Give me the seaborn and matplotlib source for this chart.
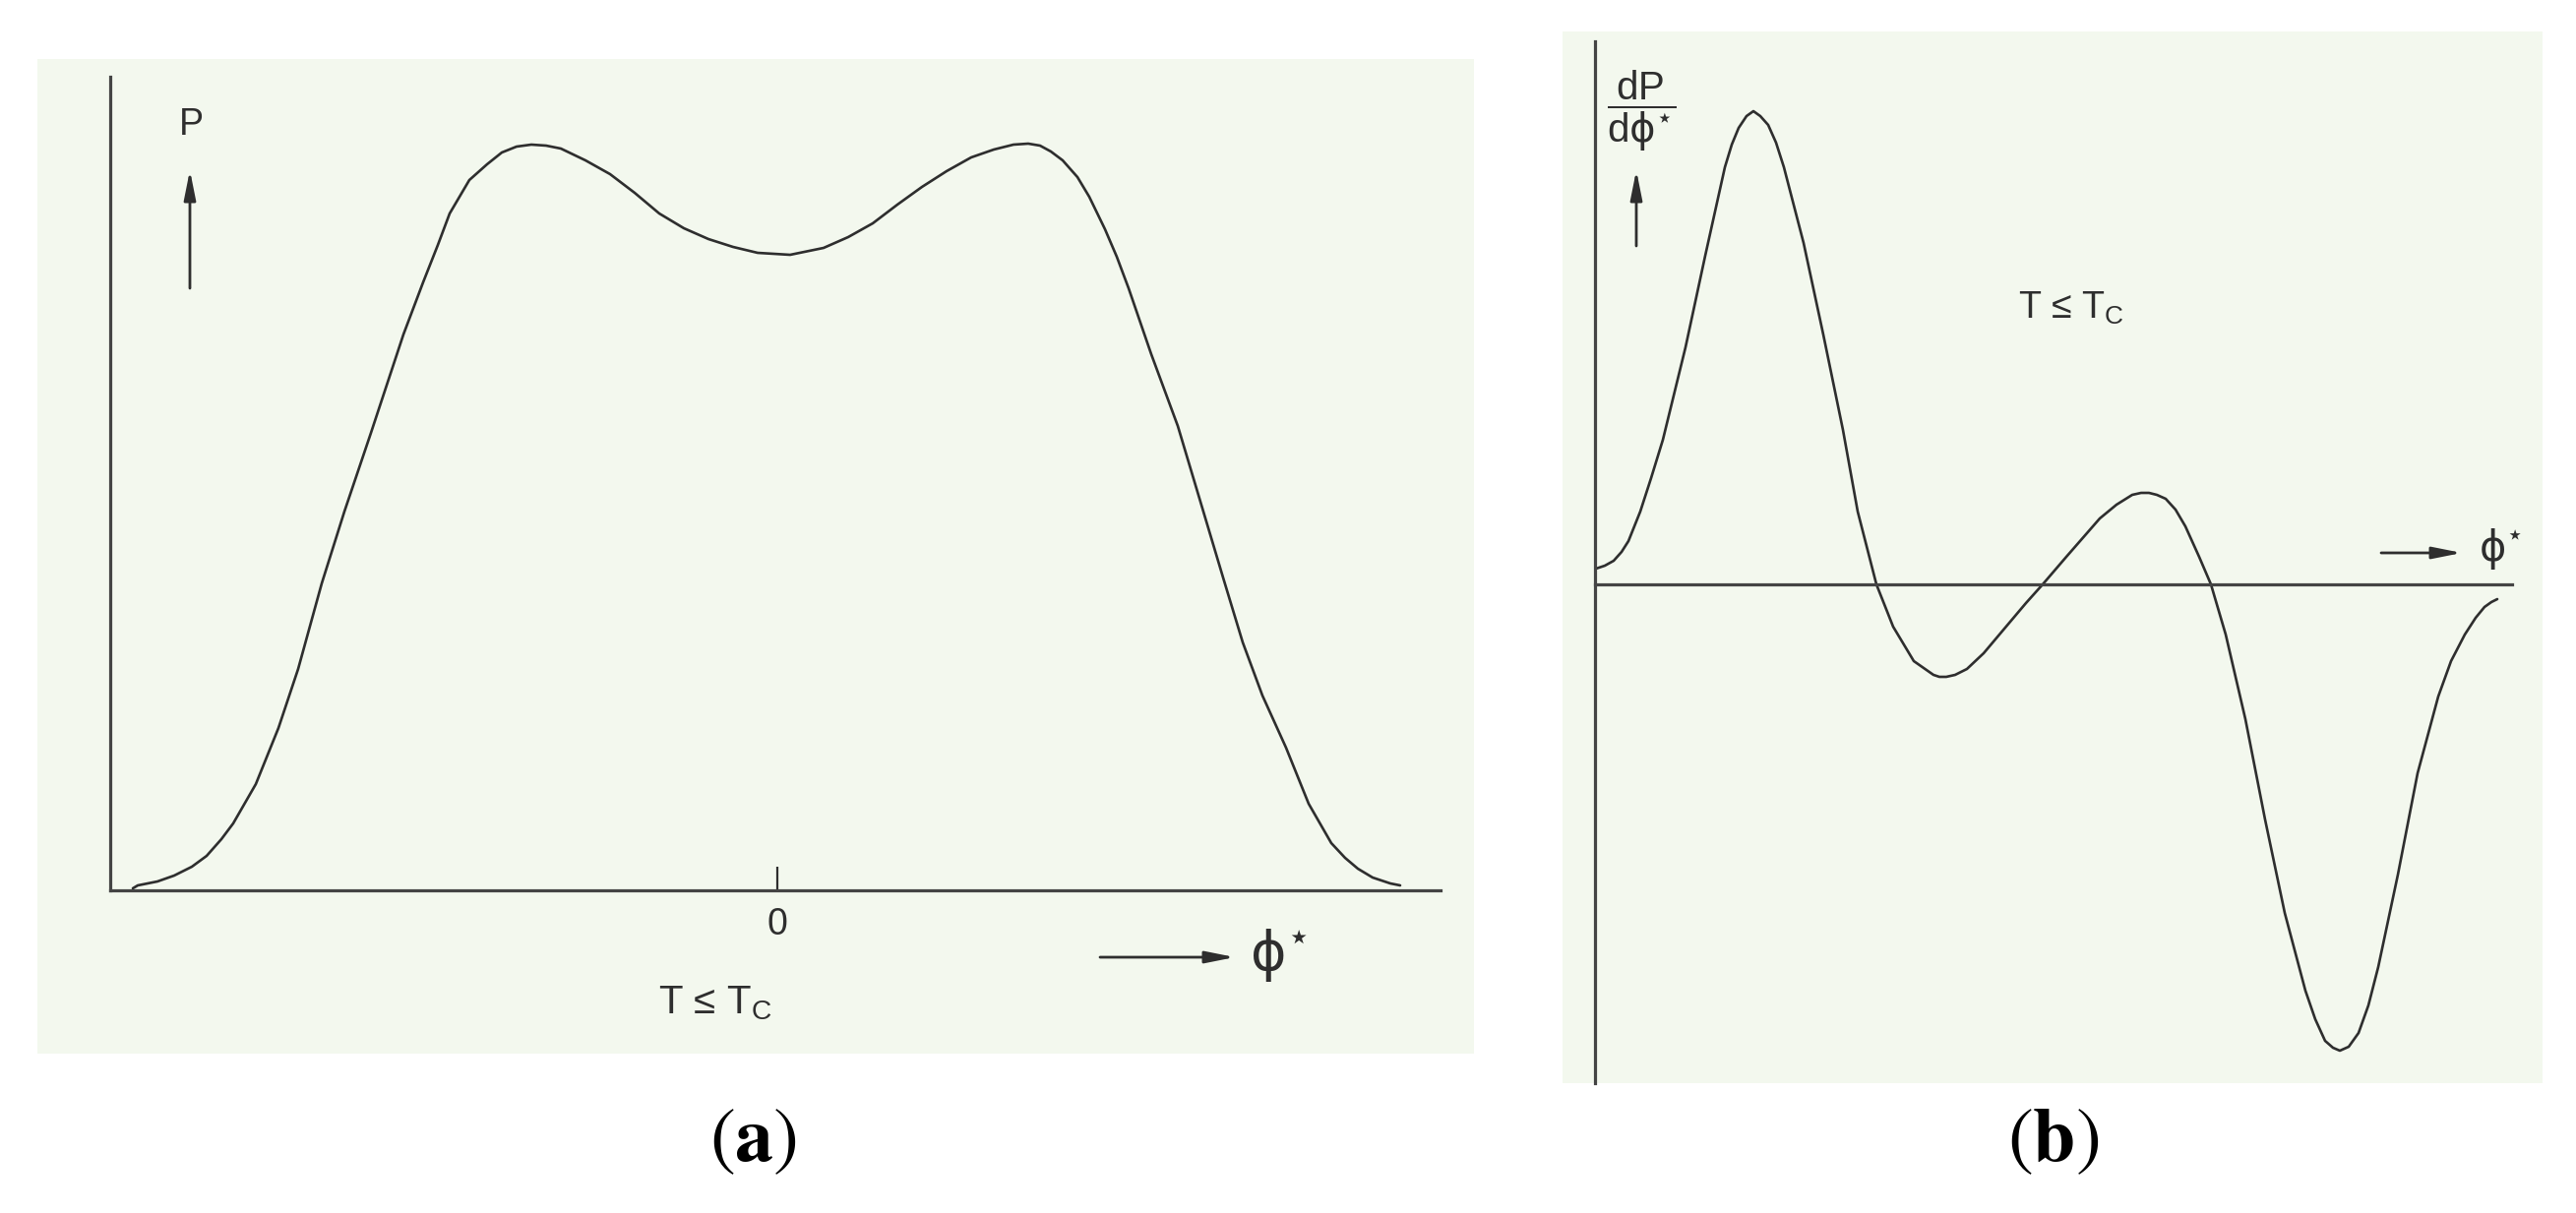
import matplotlib
matplotlib.use("Agg")
import matplotlib.pyplot as plt
import seaborn as sns

# (a) probability P against phi* (phi* = 0 at the tick)
phi_a = [-6.55, -6.50, -6.30, -6.13, -5.95, -5.80, -5.65, -5.53, -5.30, -5.07,
         -4.87, -4.63, -4.40, -4.13, -3.80, -3.60, -3.45, -3.33, -3.13, -2.95,
         -2.80, -2.65, -2.50, -2.35, -2.20, -1.95, -1.70, -1.45, -1.20, -0.95,
         -0.70, -0.45, -0.20, 0.13, 0.47, 0.72, 0.97, 1.22, 1.47, 1.72,
         1.97, 2.20, 2.40, 2.55, 2.67, 2.78, 2.90, 3.05, 3.17, 3.33,
         3.45, 3.57, 3.80, 4.07, 4.33, 4.53, 4.73, 4.93, 5.17, 5.40,
         5.63, 5.77, 5.90, 6.05, 6.23, 6.33]
p_a = [0.02, 0.05, 0.09, 0.15, 0.24, 0.35, 0.52, 0.68, 1.08, 1.65,
       2.25, 3.12, 3.85, 4.65, 5.65, 6.18, 6.56, 6.88, 7.22, 7.38,
       7.50, 7.56, 7.58, 7.57, 7.54, 7.42, 7.28, 7.09, 6.88, 6.73,
       6.62, 6.54, 6.48, 6.46, 6.53, 6.64, 6.78, 6.97, 7.15, 7.31,
       7.45, 7.53, 7.58, 7.59, 7.57, 7.51, 7.42, 7.25, 7.05, 6.72,
       6.44, 6.12, 5.45, 4.72, 3.85, 3.18, 2.52, 1.98, 1.45, 0.88,
       0.48, 0.33, 0.22, 0.13, 0.07, 0.05]

# (b) derivative dP/dphi*
phi_b = [0.01, 0.10, 0.19, 0.27, 0.34, 0.46, 0.57, 0.69, 0.92, 1.12,
         1.32, 1.39, 1.46, 1.54, 1.61, 1.68, 1.76, 1.84, 1.92, 2.12,
         2.32, 2.52, 2.67, 2.86, 3.03, 3.24, 3.44, 3.50, 3.57, 3.66,
         3.78, 3.95, 4.11, 4.38, 4.55, 4.79, 5.13, 5.30, 5.46, 5.55,
         5.63, 5.71, 5.80, 5.90, 6.00, 6.14, 6.26, 6.41, 6.61, 6.81,
         7.01, 7.22, 7.32, 7.42, 7.50, 7.57, 7.66, 7.76, 7.86, 7.96,
         8.16, 8.36, 8.57, 8.70, 8.84, 8.95, 9.04, 9.11, 9.17]
dp_b = [0.16, 0.19, 0.24, 0.33, 0.44, 0.74, 1.08, 1.47, 2.41, 3.34,
        4.24, 4.47, 4.64, 4.76, 4.81, 4.76, 4.67, 4.49, 4.24, 3.47,
        2.54, 1.57, 0.74, 0.00, -0.43, -0.78, -0.92, -0.94, -0.94, -0.92,
        -0.86, -0.70, -0.51, -0.19, 0.00, 0.28, 0.67, 0.81, 0.91, 0.93,
        0.93, 0.91, 0.87, 0.76, 0.59, 0.28, 0.00, -0.51, -1.37, -2.39,
        -3.34, -4.13, -4.42, -4.64, -4.71, -4.74, -4.70, -4.56, -4.28, -3.89,
        -2.95, -1.92, -1.14, -0.78, -0.51, -0.34, -0.23, -0.18, -0.15]

zero_tick = [0]
zero_label = ["0"]

sns.set_theme(style="white")
plt.rcParams["font.family"] = ["Liberation Sans", "DejaVu Sans"]
plt.rcParams["mathtext.fontset"] = "dejavusans"

paper = "#f3f8ee"
ink = "#2e2e2e"
W, H = 2618, 1233
fig = plt.figure(figsize=(W / 100, H / 100), dpi=100)
fig.patch.set_facecolor("white")


def box(x0, y0, x1, y1):
    return [x0 / W, 1 - y1 / H, (x1 - x0) / W, (y1 - y0) / H]


def arrow(ax, x0, y0, x1, y1):
    ax.annotate("", xy=(x1, y1), xytext=(x0, y0),
                arrowprops=dict(arrowstyle="-|>,head_length=0.9,head_width=0.18",
                                color=ink, lw=2.0, shrinkA=0, shrinkB=0,
                                mutation_scale=20))


def sketch_axes(ax, yspine_x, ybounds, xbounds):
    ax.set_facecolor(paper)
    for s in ["top", "right"]:
        ax.spines[s].set_visible(False)
    ax.spines["left"].set_position(("data", yspine_x))
    ax.spines["bottom"].set_position(("data", 0))
    ax.spines["left"].set_bounds(*ybounds)
    ax.spines["bottom"].set_bounds(*xbounds)
    for s in ["left", "bottom"]:
        ax.spines[s].set_color("#444444")
        ax.spines[s].set_linewidth(2.3)
    ax.set_yticks([])
    ax.set_xlabel("")
    ax.set_ylabel("")


# ---- panel (a)
ax_a = fig.add_axes(box(38, 60, 1498, 1071))
sns.lineplot(x=phi_a, y=p_a, ax=ax_a, color=ink, linewidth=1.9,
             estimator=None, solid_joinstyle="round")
ax_a.set_xlim(-7.52, 7.08)
ax_a.set_ylim(-1.66, 8.45)
sketch_axes(ax_a, -6.78, (0, 8.27), (-6.78, 6.74))
ax_a.set_xticks(zero_tick)
ax_a.set_xticklabels(zero_label)
ax_a.tick_params(axis="x", direction="in", length=17, width=1.6, color=ink,
                 pad=12, labelsize=27, labelcolor=ink, bottom=True)

ax_a.text(-5.96, 7.78, "P", ha="center", va="center", fontsize=27, color=ink)
arrow(ax_a, -5.97, 6.12, -5.97, 7.32)
arrow(ax_a, 3.28, -0.68, 4.65, -0.68)
ax_a.text(4.80, -0.66, r"$\mathrm{\phi}^{\star}$", ha="left", va="center",
          fontsize=40, color=ink)
ax_a.text(-0.63, -1.15, r"T ≤ T$_\mathregular{C}$", ha="center", va="center",
          fontsize=29, color=ink)

# ---- panel (b)
ax_b = fig.add_axes(box(1588, 32, 2584, 1101))
sns.lineplot(x=phi_b, y=dp_b, ax=ax_b, color=ink, linewidth=1.9,
             estimator=None, solid_joinstyle="round")
ax_b.set_xlim(-0.33, 9.63)
ax_b.set_ylim(-5.07, 5.62)
sketch_axes(ax_b, 0, (-5.07, 5.52), (0, 9.32))
ax_b.set_xticks([])

ax_b.text(0.47, 4.81, r"$\dfrac{\mathregular{dP}}{\mathregular{d}\mathrm{\phi}^{\star}}$",
          ha="center", va="center", fontsize=29, color=ink)
arrow(ax_b, 0.42, 3.44, 0.42, 4.21)
ax_b.text(4.84, 2.81, r"T ≤ T$_\mathregular{C}$", ha="center", va="center",
          fontsize=27, color=ink)
arrow(ax_b, 7.99, 0.32, 8.81, 0.32)
ax_b.text(8.98, 0.36, r"$\mathrm{\phi}^{\star}$", ha="left", va="center",
          fontsize=30, color=ink)

# ---- captions
for label, cx in [("a", 765), ("b", 2087)]:
    fig.text(cx / W, 1 - 1160 / H, r"$(\mathbf{" + label + r"})$", ha="center",
             va="center", fontsize=56, color="black", math_fontfamily="stix")

fig.savefig("out.png", dpi=100)
